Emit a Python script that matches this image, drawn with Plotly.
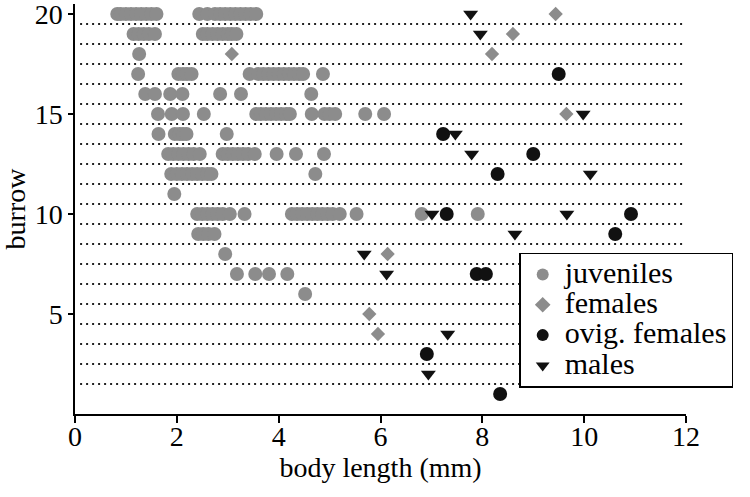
import plotly.graph_objects as go

# ---- data (body length in mm, burrow number) ----
juv_x = [0.83, 0.9, 1.0, 1.1, 1.2, 1.3, 1.4, 1.5, 1.6,
         2.44, 2.6, 2.75, 2.85, 2.95, 3.05, 3.15, 3.25, 3.35, 3.45, 3.56,
         1.15, 1.25, 1.35, 1.45, 1.57,
         2.51, 2.6, 2.7, 2.8, 2.9, 3.0, 3.08, 3.17,
         1.26,
         1.24, 2.03, 2.12, 2.2, 2.29, 3.43, 3.6, 3.7, 3.8, 3.9, 4.0, 4.1, 4.2, 4.3, 4.4, 4.48, 4.87,
         1.38, 1.57, 1.87, 2.11, 2.85, 3.26, 4.64,
         1.63, 1.9, 2.12, 2.53, 3.56, 3.65, 3.75, 3.85, 3.95, 4.05, 4.15, 4.22, 4.65, 4.9, 5.0, 5.11, 5.70, 6.07,
         1.64, 1.96, 2.05, 2.12, 2.19, 2.98,
         1.83, 1.93, 2.03, 2.13, 2.23, 2.33, 2.45, 2.90, 3.0, 3.1, 3.2, 3.3, 3.4, 3.53, 3.96, 4.34, 4.89,
         1.89, 2.0, 2.1, 2.2, 2.3, 2.4, 2.5, 2.6, 2.68, 4.72,
         1.95,
         2.40, 2.5, 2.6, 2.7, 2.8, 2.9, 3.04, 3.33, 4.26, 4.36, 4.46, 4.56, 4.66, 4.76, 4.86, 4.96, 5.06, 5.20, 5.53, 6.81, 7.91,
         2.42, 2.52, 2.62, 2.74,
         2.95,
         3.18, 3.54, 3.81, 4.17,
         4.52]
juv_y = ([20] * 20 + [19] * 13 + [18] * 1 + [17] * 17 + [16] * 7 + [15] * 18 +
         [14] * 6 + [13] * 17 + [12] * 10 + [11] * 1 + [10] * 21 + [9] * 4 +
         [8] * 1 + [7] * 4 + [6] * 1)

fem_x = [9.44, 8.60, 3.08, 8.19, 9.65, 6.14, 5.78, 5.95]
fem_y = [20, 19, 18, 18, 15, 8, 5, 4]

ovig_x = [9.50, 7.23, 9.0, 8.30, 7.30, 10.92, 10.61, 7.89, 8.07, 6.91, 8.35]
ovig_y = [17, 14, 13, 12, 10, 10, 9, 7, 7, 3, 1]

male_x = [7.77, 7.96, 9.98, 7.47, 7.79, 10.12, 7.01, 9.66, 8.64, 5.68, 6.12, 7.32, 6.94]
male_y = [20, 19, 15, 14, 13, 12, 10, 10, 9, 8, 7, 4, 2]

burrow_bounds = [1.5, 2.5, 3.5, 4.5, 5.5, 6.5, 7.5, 8.5, 9.5, 10.5,
                 11.5, 12.5, 13.5, 14.5, 15.5, 16.5, 17.5, 18.5, 19.5]
x_ticks = [0, 2, 4, 6, 8, 10, 12]
y_ticks = [5, 10, 15, 20]
series_names = ["juveniles", "females", "ovig. females", "males"]

GREY = "#8c8c8c"
BLACK = "#111111"
FONT = "Liberation Serif, Times New Roman, serif"


def legend_label(name):
    return "<span style='font-size:30px'>" + name + "</span>"


fig = go.Figure()

fig.add_trace(go.Scatter(x=juv_x, y=juv_y, mode="markers", name=legend_label(series_names[0]),
                         marker=dict(symbol="circle", size=14, color=GREY, line=dict(width=0))))
fig.add_trace(go.Scatter(x=fem_x, y=fem_y, mode="markers", name=legend_label(series_names[1]),
                         marker=dict(symbol="diamond", size=11, color=GREY, line=dict(width=0))))
fig.add_trace(go.Scatter(x=ovig_x, y=ovig_y, mode="markers", name=legend_label(series_names[2]),
                         marker=dict(symbol="circle", size=14, color=BLACK, line=dict(width=0))))
fig.add_trace(go.Scatter(x=male_x, y=male_y, mode="markers", name=legend_label(series_names[3]),
                         marker=dict(symbol="triangle-down", size=13, color=BLACK, line=dict(width=0))))

for b in burrow_bounds:
    fig.add_shape(type="line", xref="x", yref="y", x0=0.1, x1=12, y0=b, y1=b,
                  line=dict(color="#222222", width=2, dash="2px,4px"), layer="below")

fig.update_layout(
    width=750, height=497,
    margin=dict(l=75, r=64, t=4, b=83),
    paper_bgcolor="white", plot_bgcolor="white",
    font=dict(family=FONT, size=28, color="black"),
    showlegend=True,
    legend=dict(x=0.727, y=0.393, xanchor="left", yanchor="top",
                bordercolor="black", borderwidth=1.5, bgcolor="white",
                font=dict(family=FONT, size=21), itemsizing="constant",
                itemwidth=34, tracegroupgap=0),
    xaxis=dict(range=[0, 12], tickvals=x_ticks, showgrid=False, zeroline=False,
               showline=True, linecolor="black", linewidth=1.5, automargin=False,
               ticks="outside", ticklen=7, tickwidth=1.5, tickcolor="black",
               tickfont=dict(family=FONT, size=28), ticklabelstandoff=-10,
               ticklabeloverflow="allow",
               title=dict(text="body length (mm)", font=dict(family=FONT, size=28), standoff=2)),
    yaxis=dict(range=[0, 20.5], tickvals=y_ticks, showgrid=False, zeroline=False,
               showline=True, linecolor="black", linewidth=1.5, automargin=False,
               ticks="outside", ticklen=5, tickwidth=1.5, tickcolor="black",
               tickfont=dict(family=FONT, size=28), ticklabeloverflow="allow",
               title=dict(text="burrow", font=dict(family=FONT, size=28))),
)

fig.write_html("out.html", config={"displayModeBar": False},
               post_script="document.body.style.margin='0px';")
